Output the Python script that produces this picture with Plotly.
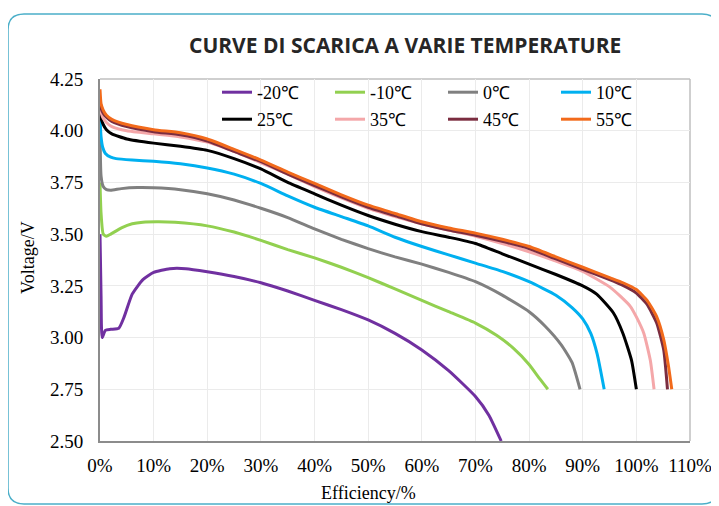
import plotly.graph_objects as go

# ---------------- data ----------------
labels = ["-20℃", "-10℃", "0℃", "10℃", "25℃", "35℃", "45℃", "55℃"]
colors = ["#7030a0", "#92d050", "#808080", "#00b0f0", "#000000", "#f4a7a9", "#7b2d40", "#f26a1b"]

x_m20 = [0, 0.002, 0.004, 0.01, 0.02, 0.035, 0.045, 0.06, 0.08, 0.10, 0.13, 0.16, 0.20, 0.25, 0.30,
         0.35, 0.40, 0.45, 0.50, 0.55, 0.60, 0.65, 0.70, 0.725, 0.748]
v_m20 = [3.50, 3.20, 3.00, 3.035, 3.04, 3.045, 3.10, 3.21, 3.28, 3.315, 3.333, 3.333, 3.318, 3.295, 3.265,
         3.225, 3.18, 3.135, 3.085, 3.02, 2.94, 2.84, 2.715, 2.625, 2.50]

x_m10 = [0, 0.002, 0.006, 0.012, 0.02, 0.04, 0.06, 0.08, 0.11, 0.14, 0.20, 0.25, 0.30, 0.35, 0.40,
         0.45, 0.50, 0.55, 0.60, 0.65, 0.70, 0.74, 0.77, 0.80, 0.82, 0.835]
v_m10 = [3.75, 3.60, 3.50, 3.49, 3.50, 3.53, 3.55, 3.558, 3.56, 3.557, 3.54, 3.51, 3.47, 3.425, 3.385,
         3.34, 3.29, 3.235, 3.18, 3.125, 3.07, 3.01, 2.95, 2.87, 2.80, 2.75]

x_0 = [0, 0.002, 0.006, 0.012, 0.02, 0.04, 0.07, 0.10, 0.15, 0.20, 0.25, 0.30, 0.35, 0.40, 0.45,
       0.50, 0.55, 0.60, 0.65, 0.70, 0.75, 0.80, 0.83, 0.86, 0.88, 0.895]
v_0 = [4.02, 3.78, 3.73, 3.715, 3.712, 3.72, 3.725, 3.724, 3.715, 3.695, 3.665, 3.625, 3.58, 3.525, 3.475,
       3.43, 3.39, 3.355, 3.315, 3.27, 3.205, 3.125, 3.055, 2.965, 2.88, 2.75]

x_10 = [0, 0.002, 0.005, 0.01, 0.02, 0.03, 0.06, 0.10, 0.15, 0.20, 0.25, 0.30, 0.35, 0.40, 0.45,
        0.50, 0.55, 0.60, 0.65, 0.70, 0.75, 0.80, 0.85, 0.88, 0.90, 0.915, 0.927, 0.94]
v_10 = [4.06, 3.97, 3.92, 3.89, 3.872, 3.865, 3.858, 3.852, 3.84, 3.82, 3.79, 3.745, 3.685, 3.63, 3.585,
        3.54, 3.485, 3.44, 3.40, 3.36, 3.32, 3.27, 3.205, 3.145, 3.09, 3.02, 2.92, 2.75]

x_25 = [0, 0.002, 0.006, 0.012, 0.022, 0.05, 0.10, 0.15, 0.20, 0.25, 0.30, 0.35, 0.40, 0.45, 0.50,
        0.55, 0.60, 0.65, 0.70, 0.75, 0.80, 0.85, 0.90, 0.926, 0.957, 0.975, 0.991, 1.0]
v_25 = [4.085, 4.06, 4.03, 4.005, 3.985, 3.96, 3.94, 3.925, 3.905, 3.865, 3.815, 3.75, 3.695, 3.64, 3.59,
        3.548, 3.512, 3.485, 3.455, 3.405, 3.355, 3.305, 3.25, 3.21, 3.12, 3.02, 2.89, 2.75]

x_35 = [0, 0.002, 0.006, 0.012, 0.022, 0.05, 0.10, 0.15, 0.20, 0.25, 0.30, 0.35, 0.40, 0.45, 0.50,
        0.55, 0.60, 0.65, 0.70, 0.75, 0.80, 0.85, 0.90, 0.95, 0.97, 0.989, 1.0, 1.014, 1.026, 1.033]
v_35 = [4.13, 4.09, 4.06, 4.04, 4.02, 4.0, 3.985, 3.97, 3.945, 3.90, 3.845, 3.79, 3.73, 3.675, 3.625,
        3.585, 3.55, 3.52, 3.49, 3.455, 3.415, 3.37, 3.32, 3.245, 3.20, 3.15, 3.10, 3.02, 2.89, 2.75]

x_45 = [0, 0.002, 0.006, 0.012, 0.022, 0.05, 0.10, 0.15, 0.20, 0.25, 0.30, 0.35, 0.40, 0.45, 0.50,
        0.55, 0.60, 0.65, 0.70, 0.75, 0.80, 0.85, 0.90, 0.95, 0.975, 1.0, 1.02, 1.038, 1.051, 1.058]
v_45 = [4.16, 4.11, 4.085, 4.065, 4.045, 4.02, 3.995, 3.98, 3.95, 3.90, 3.85, 3.79, 3.735, 3.68, 3.63,
        3.59, 3.55, 3.52, 3.495, 3.465, 3.43, 3.38, 3.33, 3.28, 3.252, 3.215, 3.16, 3.07, 2.94, 2.75]

x_55 = [0, 0.002, 0.006, 0.012, 0.022, 0.05, 0.10, 0.15, 0.20, 0.25, 0.30, 0.35, 0.40, 0.45, 0.50,
        0.55, 0.60, 0.65, 0.70, 0.75, 0.80, 0.85, 0.90, 0.95, 0.975, 1.0, 1.02, 1.038, 1.051, 1.06, 1.066]
v_55 = [4.20, 4.13, 4.10, 4.075, 4.055, 4.03, 4.005, 3.99, 3.96, 3.91, 3.858, 3.80, 3.745, 3.69, 3.64,
        3.60, 3.56, 3.53, 3.505, 3.475, 3.44, 3.39, 3.34, 3.29, 3.265, 3.232, 3.18, 3.10, 2.99, 2.86, 2.75]

xs = [x_m20, x_m10, x_0, x_10, x_25, x_35, x_45, x_55]
vs = [v_m20, v_m10, v_0, v_10, v_25, v_35, v_45, v_55]

x_ticks = [0, 0.1, 0.2, 0.3, 0.4, 0.5, 0.6, 0.7, 0.8, 0.9, 1.0, 1.1]
y_ticks = [2.50, 2.75, 3.00, 3.25, 3.50, 3.75, 4.00, 4.25]

# ---------------- layout geometry ----------------
# the page body has an 8px margin, so the figure is shifted by 8px
OFF = 8
W, H = 711, 498
ML, MR, MT, MB = 92, 29, 71, 65
PW, PH = W - ML - MR, H - MT - MB


def px(x):  # page pixel x -> paper
    return (x - OFF - ML) / PW


def py(y):  # page pixel y -> paper
    return (H - MB - (y - OFF)) / PH


SERIF = "Liberation Serif, Times New Roman, serif"

fig = go.Figure()
for i, (lab, col, x, v) in enumerate(zip(labels, colors, xs, vs)):
    fig.add_trace(go.Scatter(
        x=x, y=v, mode="lines", name=lab,
        line=dict(color=col, width=3, shape="spline", smoothing=0.5),
        legend="legend" if i < 4 else "legend2",
    ))

# rounded card border
L, T, R, B, r = 8, 14, 718, 504, 16
rx, ry = r / PW, r / PH
x0, x1, y0, y1 = px(L), px(R), py(B), py(T)
path = (f"M {x0 + rx},{y1} L {x1 - rx},{y1} Q {x1},{y1} {x1},{y1 - ry} "
        f"L {x1},{y0 + ry} Q {x1},{y0} {x1 - rx},{y0} "
        f"L {x0 + rx},{y0} Q {x0},{y0} {x0},{y0 + ry} "
        f"L {x0},{y1 - ry} Q {x0},{y1} {x0 + rx},{y1} Z")

shapes = [
    dict(type="path", xref="paper", yref="paper", path=path,
         line=dict(color="#4bafc9", width=1.5), layer="below"),
    dict(type="line", xref="paper", yref="paper", x0=0, x1=1, y0=1, y1=1,
         line=dict(color="#bfbfbf", width=1.5), layer="below"),
    dict(type="line", xref="paper", yref="paper", x0=1, x1=1, y0=0, y1=1,
         line=dict(color="#bfbfbf", width=1.5), layer="below"),
]

annotations = [
    dict(text="<b>CURVE DI SCARICA A VARIE TEMPERATURE</b>", xref="paper", yref="paper",
         x=px(405), y=py(45), showarrow=False, xanchor="center", yanchor="middle",
         font=dict(family="Open Sans, sans-serif", size=21, color="#262626")),
    dict(text="Voltage/V", xref="paper", yref="paper", x=px(28), y=py(258), textangle=-90,
         showarrow=False, xanchor="center", yanchor="middle",
         font=dict(family=SERIF, size=18, color="#000000")),
    dict(text="Efficiency/%", xref="paper", yref="paper", x=px(368), y=py(493),
         showarrow=False, xanchor="center", yanchor="middle",
         font=dict(family=SERIF, size=18, color="#000000")),
]

legend_common = dict(orientation="h", xanchor="left", yanchor="top", bgcolor="rgba(0,0,0,0)",
                     entrywidth=68, entrywidthmode="pixels",
                     font=dict(family=SERIF, size=18, color="#000000"), itemclick=False)

fig.update_layout(
    width=W, height=H,
    margin=dict(l=ML, r=MR, t=MT, b=MB, autoexpand=False),
    paper_bgcolor="white", plot_bgcolor="white",
    showlegend=True,
    legend=dict(x=px(217), y=py(74), **legend_common),
    legend2=dict(x=px(217), y=py(101), **legend_common),
    shapes=shapes,
    annotations=annotations,
    xaxis=dict(range=[0, 1.1], tickvals=x_ticks, tickformat=".0%",
               showgrid=True, gridcolor="#ebebeb", gridwidth=1, zeroline=False,
               showline=True, linecolor="#8c8c8c", linewidth=2, ticks="",
               ticklabelstandoff=6, layer="below traces",
               tickfont=dict(family=SERIF, size=19, color="#000000")),
    yaxis=dict(range=[2.5, 4.25], tickvals=y_ticks, tickformat=".2f",
               showgrid=True, gridcolor="#ebebeb", gridwidth=1, zeroline=False,
               showline=True, linecolor="#8c8c8c", linewidth=2,
               ticks="outside", ticklen=11, tickcolor="rgba(0,0,0,0)",
               layer="below traces",
               tickfont=dict(family=SERIF, size=19, color="#000000")),
)

fig.write_html("out.html")
